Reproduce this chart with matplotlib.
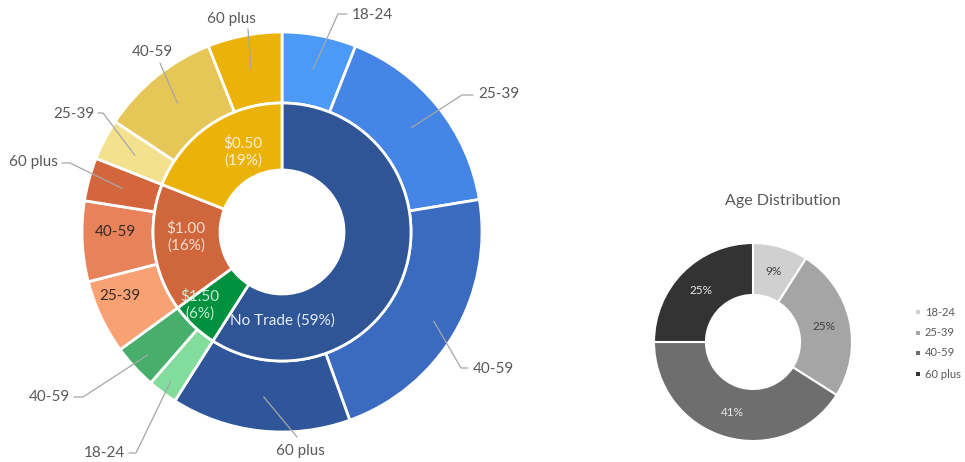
import numpy as np
import matplotlib
matplotlib.use('Agg')
import matplotlib.pyplot as plt

plt.rcParams['font.family'] = ['Lato', 'DejaVu Sans']

# inner ring: trade choice (percent of all respondents)
groups = ['No Trade', '$1.50', '$1.00', '$0.50']
group_pct = [59, 6, 16, 19]
group_colors = ['#2F5597', '#00913F', '#D0673C', '#EBB30A']

# outer ring: age split inside each trade choice (percent of all respondents)
no_trade_ages = ['18-24', '25-39', '40-59', '60 plus']
no_trade_vals = [6.0, 16.4, 22.1, 14.5]
p150_ages = ['18-24', '40-59']
p150_vals = [2.4, 3.6]
p100_ages = ['25-39', '40-59', '60 plus']
p100_vals = [6.0, 6.5, 3.5]
p050_ages = ['25-39', '40-59', '60 plus']
p050_vals = [3.3, 9.7, 6.0]

outer_colors = ['#4C9AF7', '#4485E5', '#3A6BC1', '#2F559A',
                '#82DC9C', '#47AE6B',
                '#F8A274', '#E8825A', '#D4663E',
                '#F3E18E', '#E6C656', '#EBB30A']

# overall age distribution
age_labels = ['18-24', '25-39', '40-59', '60 plus']
age_pct = [9, 25, 41, 25]
age_colors = ['#D0D0D0', '#A5A5A5', '#6E6E6E', '#333333']

W, H = 965, 462
fig = plt.figure(figsize=(W / 100, H / 100), dpi=100)
ax = fig.add_axes([0, 0, 1, 1])

def px(x, y):
    return x, H - y

# ---- sunburst ----
cx, cy = px(282, 232)
R = 200
r_mid = 0.645 * R
r_hole = 0.31 * R

outer_labels = no_trade_ages + p150_ages + p100_ages + p050_ages
outer_vals = no_trade_vals + p150_vals + p100_vals + p050_vals

outer, _ = ax.pie(outer_vals, radius=R, center=(cx, cy), startangle=90,
                  counterclock=False, colors=outer_colors,
                  wedgeprops=dict(width=R - r_mid, edgecolor='white', linewidth=2))
inner, _ = ax.pie(group_pct, radius=r_mid, center=(cx, cy), startangle=90,
                  counterclock=False, colors=group_colors,
                  wedgeprops=dict(width=r_mid - r_hole, edgecolor='white', linewidth=2))

# label placement for each outer wedge: text pos, alignment, leader start radius, leader bends
label_layout = [
    ((352, 15), 'left', 0.83, [(338, 14), (347, 14)]),
    ((478, 94), 'left', 0.83, [(462, 95), (473, 95)]),
    ((473, 369), 'left', 0.88, [(461, 368), (468, 368)]),
    ((300, 451), 'center', 0.83, [(297, 437)]),
    ((125, 453), 'right', 0.93, [(136, 453), (129, 453)]),
    ((70, 397), 'right', 0.91, [(83, 397), (74, 397)]),
    ((120, 296), 'inside', 0, None),
    ((115, 232), 'inside', 0, None),
    ((58, 162), 'right', 0.83, [(70, 163), (62, 163)]),
    ((95, 114), 'right', 0.83, [(103, 113), (98, 113)]),
    ((152, 52), 'center', 0.83, [(160, 63)]),
    ((231, 19), 'center', 0.83, [(248, 29)]),
]

for w, lab, (pos, ha, rr, path) in zip(outer, outer_labels, label_layout):
    tx, ty = px(*pos)
    if ha == 'inside':
        ax.text(tx, ty, lab, ha='center', va='center', fontsize=11, color='#3A2A22')
        continue
    mid = np.deg2rad((w.theta1 + w.theta2) / 2)
    ax_x = cx + rr * R * np.cos(mid)
    ax_y = cy + rr * R * np.sin(mid)
    pts = [(ax_x, ax_y)] + [px(*p) for p in path]
    xs, ys = zip(*pts)
    ax.plot(xs, ys, color='#A6A6A6', lw=0.9, solid_capstyle='round')
    ax.text(tx, ty, lab, ha=ha, va='center', fontsize=11, color='#595959')

inner_text = ['No Trade (59%)', '\\$1.50\n(6%)', '\\$1.00\n(16%)', '\\$0.50\n(19%)']
inner_pos = [(282, 321), (200, 305), (186, 237), (243, 152)]
inner_tcol = ['#E8EDF7', '#C8EFD4', '#F8DDD0', '#FBF0D2']
for t, p, c in zip(inner_text, inner_pos, inner_tcol):
    ax.text(*px(*p), t, ha='center', va='center', fontsize=11, color=c,
            linespacing=1.3)

# ---- age distribution donut ----
scx, scy = px(753, 342)
sR = 99
wedges, _, autotexts = ax.pie(age_pct, radius=sR, center=(scx, scy), startangle=90,
                              counterclock=False, colors=age_colors,
                              autopct='%d%%', pctdistance=0.74,
                              wedgeprops=dict(width=sR * 0.525, edgecolor='white', linewidth=1.5))
for t, c in zip(autotexts, ['#404040', '#404040', '#E6E6E6', '#E6E6E6']):
    t.set_color(c)
    t.set_fontsize(8.5)

ax.text(*px(783, 201), 'Age Distribution', ha='center', va='center',
        fontsize=11.5, color='#595959')

leg_y = [312, 333, 353, 374]
for lab, col, y in zip(age_labels, age_colors, leg_y):
    ax.scatter(*px(918, y), marker='s', s=10, color=col, linewidths=0)
    ax.text(*px(925, y), lab, ha='left', va='center', fontsize=8, color='#595959')

ax.set_aspect('auto')
ax.set_xlim(0, W)
ax.set_ylim(0, H)
ax.axis('off')

fig.savefig('out.png', dpi=100, facecolor='white')
